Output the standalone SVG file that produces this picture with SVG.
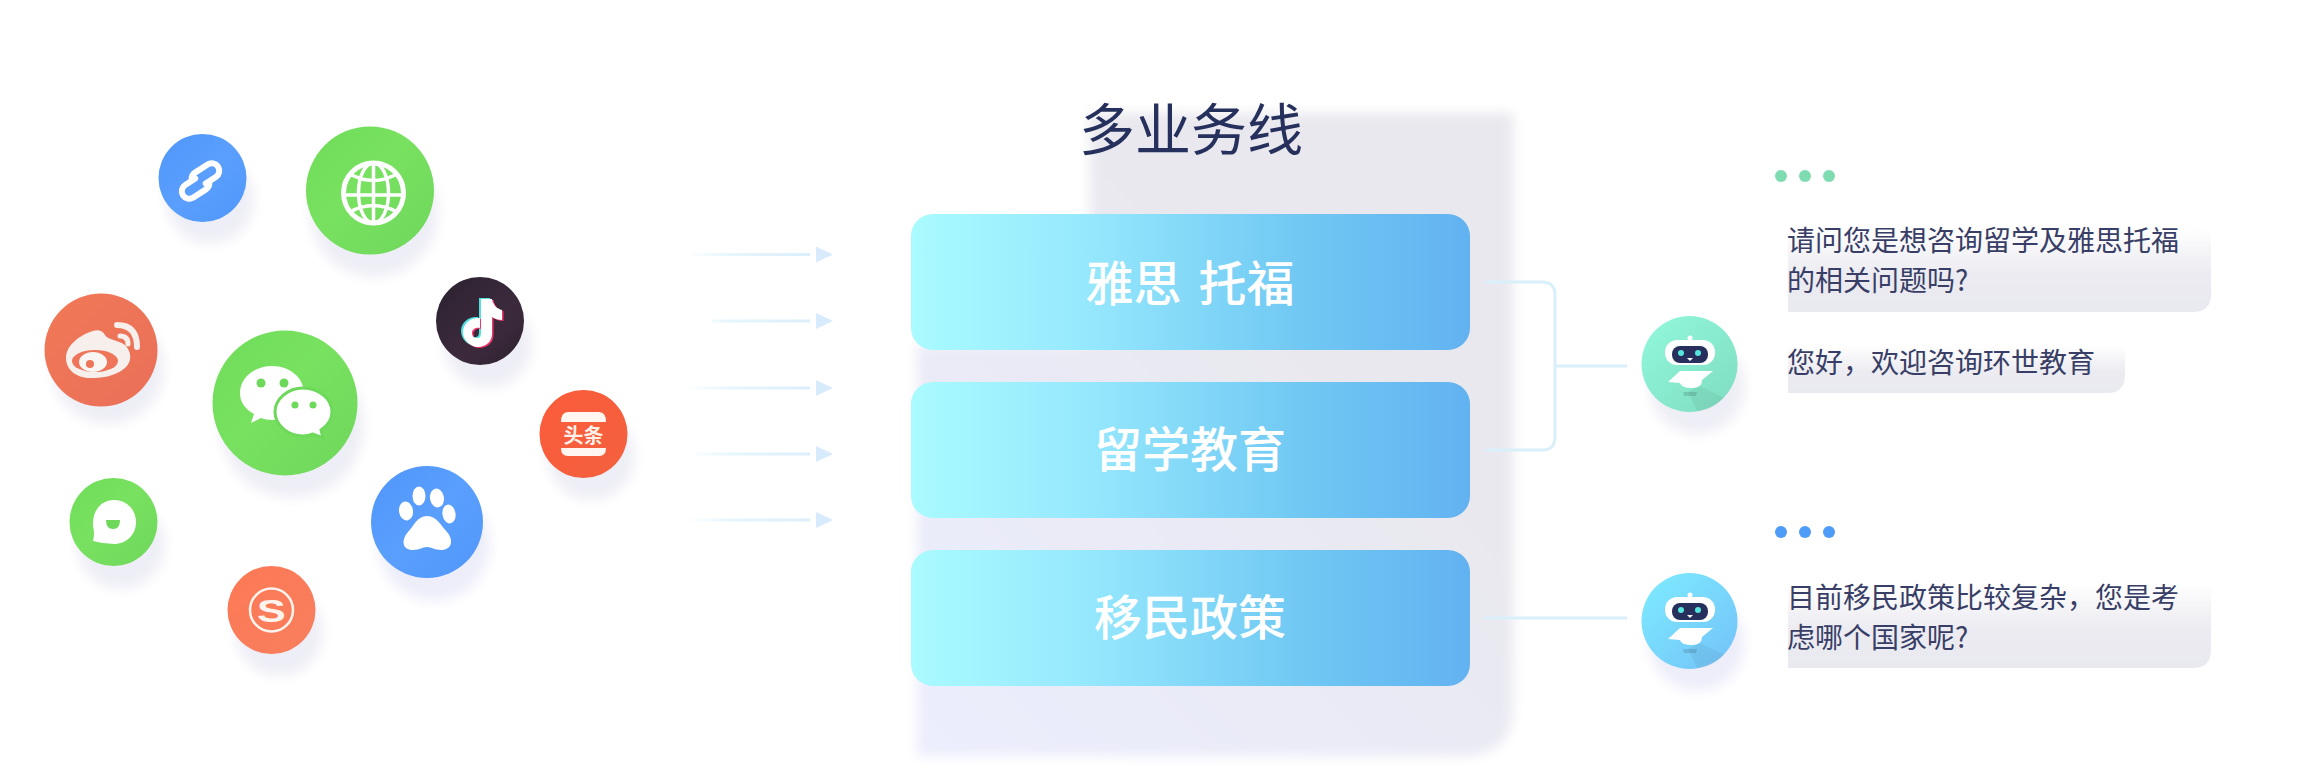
<svg xmlns="http://www.w3.org/2000/svg" width="2298" height="778" viewBox="0 0 2298 778">
<style>
text{font-family:"Noto Sans CJK SC","Noto Sans",sans-serif}
.card{font-size:48px;font-weight:500;fill:#fff;text-anchor:middle}
.title{font-size:56px;fill:#26305c;text-anchor:middle}
.msg{font-size:28px;fill:#383e66}
.sh{fill:#eeeef6;filter:url(#blur6)}
.wire{fill:none;stroke:#d9f0fb;stroke-width:3}
.arrow{fill:none;stroke-width:3;marker-end:url(#head)}
.w{fill:#fff}
.ws{fill:none;stroke:#fff}
</style>
<defs>
<filter id="blur6" x="-30%" y="-30%" width="160%" height="160%"><feGaussianBlur stdDeviation="6"/></filter>
<filter id="blur4" x="-5%" y="-5%" width="110%" height="110%"><feGaussianBlur stdDeviation="6"/></filter>
<linearGradient id="blue" x1="0" y1="0" x2="1" y2="1"><stop offset="0" stop-color="#4f96fb"/><stop offset=".5" stop-color="#5a9ffd"/><stop offset="1" stop-color="#5097fb"/></linearGradient>
<linearGradient id="green" x1="0" y1="0" x2="1" y2="1"><stop offset="0" stop-color="#70dc5a"/><stop offset=".45" stop-color="#78e160"/><stop offset="1" stop-color="#6fd75c"/></linearGradient>
<linearGradient id="red" x1="0" y1="0" x2="1" y2="1"><stop offset="0" stop-color="#f27858"/><stop offset="1" stop-color="#e97058"/></linearGradient>
<linearGradient id="orange" x1="0" y1="0" x2="1" y2="1"><stop offset="0" stop-color="#fd7955"/><stop offset="1" stop-color="#f87f5e"/></linearGradient>
<linearGradient id="tt" x1="0" y1="0" x2="1" y2="1"><stop offset="0" stop-color="#fb5c3a"/><stop offset="1" stop-color="#f3603f"/></linearGradient>
<linearGradient id="dark" x1="0" y1="0" x2="1" y2="1"><stop offset="0" stop-color="#2b2230"/><stop offset=".6" stop-color="#3c2a3c"/><stop offset="1" stop-color="#2e2230"/></linearGradient>
<linearGradient id="cardg" x1="0" y1="0" x2="1" y2="0"><stop offset="0" stop-color="#a9fbff"/><stop offset=".3" stop-color="#97e9fd"/><stop offset=".7" stop-color="#70c8f3"/><stop offset="1" stop-color="#62b2f1"/></linearGradient>
<linearGradient id="panel" gradientUnits="userSpaceOnUse" x1="917" y1="720" x2="1300" y2="330"><stop offset="0" stop-color="#ecedfd"/><stop offset=".6" stop-color="#e9eaf5"/><stop offset="1" stop-color="#e9e8ee"/></linearGradient>
<linearGradient id="bub" x1="0" y1="0" x2="0" y2="1"><stop offset="0" stop-color="#fff"/><stop offset=".55" stop-color="#ebebf1"/><stop offset="1" stop-color="#e9e9f0"/></linearGradient>
<linearGradient id="bot1" x1="0" y1="0" x2="1" y2="1"><stop offset="0" stop-color="#92f8dd"/><stop offset="1" stop-color="#7edcbf"/></linearGradient>
<linearGradient id="bot2" x1="0" y1="0" x2="1" y2="1"><stop offset="0" stop-color="#7eecff"/><stop offset="1" stop-color="#73c1f8"/></linearGradient>
<linearGradient id="fade1" gradientUnits="userSpaceOnUse" x1="685" y1="0" x2="812" y2="0"><stop offset="0" stop-color="#e6f6fd" stop-opacity="0"/><stop offset=".35" stop-color="#e6f6fd"/><stop offset="1" stop-color="#dbeefb"/></linearGradient>
<marker id="head" markerUnits="userSpaceOnUse" markerWidth="26" markerHeight="16" refX="-6" refY="8" orient="auto" viewBox="-6 0 26 16"><path d="M0 0L17 8L0 16Z" fill="#d8ebfd"/></marker>
<g id="robot">
<path d="M1688 392L1700 386L1724 398Q1710 412 1697 411Z" fill="#000" opacity=".05"/>
<circle cx="1690" cy="338" r="2.500" fill="#fff"/>
<rect x="1665" y="340" width="50" height="25" rx="12" fill="#fff"/>
<rect x="1672" y="346" width="36" height="17" rx="8" fill="#27305c"/>
<circle cx="1681" cy="353" r="3" fill="#56e6dc"/><circle cx="1698" cy="353" r="3" fill="#56e6dc"/>
<path d="M1687 358h6l-3 3z" fill="#fff"/>
<path d="M1668 382L1680 371H1700L1713 371L1702 380Q1702 388 1692 388Q1681 388 1680 383Z" fill="#fff"/>
<path d="M1683 392h14l-1 4h-12z" fill="#000" opacity=".12"/>
</g>
</defs>
<rect width="2298" height="778" fill="#fff"/>

<path id="panel-bg" d="M1090 113H1513V705Q1513 756 1462 756H917V345H1090Z" fill="url(#panel)" filter="url(#blur4)"/>

<g id="connectors">
<path class="arrow" stroke="url(#fade1)" d="M690 254.500H810"/>
<path class="arrow" stroke="url(#fade1)" d="M712 321H810"/>
<path class="arrow" stroke="url(#fade1)" d="M685 388H810"/>
<path class="arrow" stroke="url(#fade1)" d="M695 454H810"/>
<path class="arrow" stroke="url(#fade1)" d="M685 520H810"/>
<path class="wire" d="M1485 282H1542Q1555 282 1555 295V437Q1555 450 1542 450H1485"/>
<path class="wire" d="M1555 366H1627"/>
<path class="wire" d="M1485 618H1627"/>
</g>

<g id="icon-link"><circle class="sh" cx="210" cy="200" r="44"/><circle cx="202.500" cy="178" r="44" fill="url(#blue)"/>
<g transform="translate(200.500,181) rotate(-33)" class="ws" stroke-width="6" stroke-linecap="round"><path d="M-3 -5H-15a7.500 7.500 0 0 0 0 15H0a7.500 7.500 0 0 0 6 -3"/><path d="M3 5H15a7.500 7.500 0 0 0 0 -15H0a7.500 7.500 0 0 0 -6 3"/></g></g>

<g id="icon-globe"><circle class="sh" cx="374" cy="213" r="64"/><circle cx="370" cy="190.500" r="64" fill="url(#green)"/>
<g class="ws" stroke-width="3.500"><circle cx="373.500" cy="193" r="30" stroke-width="5"/><ellipse cx="373.500" cy="193" rx="15" ry="30"/><path d="M373.500 163V223M344 195H403M350 174Q373 187 397 174M350 212Q373 199 397 212"/></g></g>

<g id="icon-weibo"><circle class="sh" cx="108" cy="368" r="56"/><circle cx="101" cy="350" r="56.500" fill="url(#red)"/>
<path d="M66 358C66 345 80 335 93 331C98 329 103 331 105 335C108 340 118 340 125 345C132 352 132 362 125 368C115 377 100 378 90 378C78 378 66 371 66 358Z" fill="#f6efec"/>
<ellipse cx="95" cy="361" rx="23" ry="11" fill="#ee7559"/><ellipse cx="93" cy="362" rx="14" ry="10" fill="#f9f5f2"/><circle cx="90" cy="364" r="4" fill="#ee7559"/>
<g fill="none" stroke="#f6efec" stroke-width="6" stroke-linecap="round"><path d="M117 325Q137 325 137 347"/><path d="M120 336Q128 336 128 344" stroke-width="5"/></g></g>

<g id="icon-wechat"><circle class="sh" cx="292" cy="426" r="72"/><circle cx="285" cy="403" r="72.500" fill="url(#green)"/>
<path class="w" d="M272 366C290 366 304 378 304 393C304 408 290 420 272 420Q266 420 261 418L251 423L254 414C245 409 240 402 240 393C240 378 254 366 272 366Z"/>
<circle cx="261" cy="383" r="4.500" fill="#6dd85a"/><circle cx="284" cy="383" r="4.500" fill="#6dd85a"/>
<path class="w" stroke="#6dd85a" stroke-width="3" d="M303 388C319 388 332 399 332 412C332 420 327 426 321 430L323 438L313 434Q308 436 303 436C288 436 275 425 275 412C275 399 288 388 303 388Z"/>
<circle cx="295" cy="405" r="3.500" fill="#6dd85a"/><circle cx="313" cy="405" r="3.500" fill="#6dd85a"/></g>

<g id="icon-chat"><circle class="sh" cx="121" cy="545" r="44"/><circle cx="113.500" cy="522" r="44" fill="url(#green)"/>
<path class="w" d="M114 500C127 500 136 510 136 522C136 535 126 544 114 544Q104 544 93 541Q95 534 93 526C92 511 101 500 114 500Z"/>
<path d="M106 520H120Q120 529 113 529Q106 529 106 520Z" fill="#6dd85a"/></g>

<g id="icon-sogou"><circle class="sh" cx="279" cy="632" r="44"/><circle cx="271.500" cy="610" r="44" fill="url(#orange)"/>
<circle cx="271.500" cy="610" r="21.500" fill="none" stroke-width="2.500" stroke="#fff3ee"/>
<text transform="translate(271.500,622) scale(1.350,1)" text-anchor="middle" font-size="32" font-weight="700" fill="#fff3ee" style="font-family:'Liberation Sans',sans-serif">S</text></g>

<g id="icon-baidu"><circle class="sh" cx="434" cy="545" r="56" style="fill:#eeeefa"/><circle cx="427" cy="522" r="56" fill="url(#blue)"/>
<ellipse class="w" cx="406" cy="511" rx="7" ry="9.500" transform="rotate(-8 406 511)"/><ellipse class="w" cx="419" cy="496" rx="6.500" ry="9.500"/><ellipse class="w" cx="437" cy="498" rx="7" ry="9.500" transform="rotate(-10 437 498)"/><ellipse class="w" cx="449" cy="514" rx="6.500" ry="9.500" transform="rotate(-10 449 514)"/>
<path class="w" d="M427 516C437 516 441 526 447 532C454 540 452 550 441 550C434 550 432 547 427 547C422 547 420 550 413 550C402 550 401 540 408 532C414 526 417 516 427 516Z"/></g>

<g id="icon-toutiao"><circle class="sh" cx="591" cy="456" r="44"/><circle cx="583.500" cy="434" r="44" fill="url(#tt)"/>
<path fill="#fff6f0" d="M568 412H599Q606 412 606 422H561Q561 412 568 412ZM561 448H606Q606 456 599 456H568Q561 456 561 448Z"/>
<text x="583.500" y="443" text-anchor="middle" font-size="20" font-weight="700" fill="#fff1e8">头条</text></g>

<g id="icon-tiktok"><circle class="sh" cx="488" cy="344" r="44"/><circle cx="480" cy="321" r="44" fill="url(#dark)"/>
<path fill="#4fe3e0" transform="translate(-2,-1)" d="M481 299H492C493 305 497 309 502 310V320C498 320 495 319 492 317V334C492 342 485 347 478 347C470 347 463 340 463 332C463 324 470 318 478 318H480V328C476 327 472 329 472 333C472 336 474 338 477 338C480 338 481 336 481 333Z"/>
<path fill="#f2356a" transform="translate(1.500,1)" d="M481 299H492C493 305 497 309 502 310V320C498 320 495 319 492 317V334C492 342 485 347 478 347C470 347 463 340 463 332C463 324 470 318 478 318H480V328C476 327 472 329 472 333C472 336 474 338 477 338C480 338 481 336 481 333Z"/>
<path fill="#fff" d="M481 299H492C493 305 497 309 502 310V320C498 320 495 319 492 317V334C492 342 485 347 478 347C470 347 463 340 463 332C463 324 470 318 478 318H480V328C476 327 472 329 472 333C472 336 474 338 477 338C480 338 481 336 481 333Z"/></g>

<text id="title" class="title" x="1191" y="150">多业务线</text>

<g id="card-1"><rect x="911" y="214" width="559" height="136" rx="22" fill="url(#cardg)"/><text class="card" x="1190" y="301" word-spacing="6">雅思 托福</text></g>
<g id="card-2"><rect x="911" y="382" width="559" height="136" rx="22" fill="url(#cardg)"/><text class="card" x="1190" y="467">留学教育</text></g>
<g id="card-3"><rect x="911" y="550" width="559" height="136" rx="22" fill="url(#cardg)"/><text class="card" x="1190" y="635">移民政策</text></g>

<g id="bot-green"><circle class="sh" cx="1697" cy="386" r="48"/><circle cx="1689.500" cy="364" r="48" fill="url(#bot1)"/><use href="#robot"/></g>
<g id="bot-blue"><circle class="sh" cx="1697" cy="643" r="48" style="fill:#eeeefa"/><circle cx="1689.500" cy="621" r="48" fill="url(#bot2)"/><use href="#robot" y="257"/></g>

<g id="dots-green" fill="#7edcb0"><circle cx="1781" cy="176" r="6"/><circle cx="1805" cy="176" r="6"/><circle cx="1829" cy="176" r="6"/></g>
<g id="dots-blue" fill="#4f9bf8"><circle cx="1781" cy="532" r="6"/><circle cx="1805" cy="532" r="6"/><circle cx="1829" cy="532" r="6"/></g>

<g id="msg-1"><path d="M1788 228H2211V294Q2211 312 2193 312H1788Z" fill="url(#bub)"/><text class="msg" x="1787" y="251">请问您是想咨询留学及雅思托福</text><text class="msg" x="1787" y="291">的相关问题吗?</text></g>
<g id="msg-2"><path d="M1788 346H2125V375Q2125 393 2107 393H1788Z" fill="url(#bub)"/><text class="msg" x="1787" y="373">您好，欢迎咨询环世教育</text></g>
<g id="msg-3"><path d="M1788 583H2211V650Q2211 668 2193 668H1788Z" fill="url(#bub)"/><text class="msg" x="1787" y="608">目前移民政策比较复杂，您是考</text><text class="msg" x="1787" y="648">虑哪个国家呢?</text></g>
</svg>
